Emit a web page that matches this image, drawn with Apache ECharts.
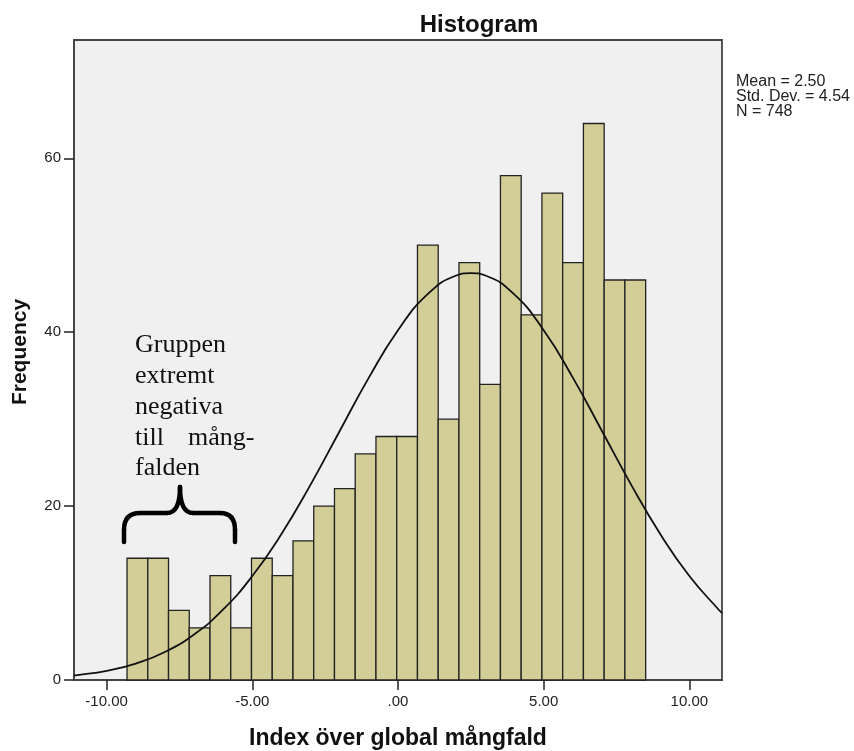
<!DOCTYPE html>
<html>
<head>
<meta charset="utf-8">
<script src="https://cdn.jsdelivr.net/npm/echarts@6/dist/echarts.min.js"></script>
<style>
html,body{margin:0;padding:0;background:#fff;}
#chart{width:854px;height:751px;}
</style>
</head>
<body>
<div id="chart"></div>
<script>
// ---- data ----
const binStart = -9.30;
const binWidth = 0.712;
const counts = [14,14,8,6,12,6,14,12,16,20,22,26,28,28,50,30,48,34,58,42,56,48,64,46,46];
const curveX = [-11.12,-11,-10,-9,-8,-7,-6,-5,-4,-3,-2,-1,0,1,2,2.5,3,4,5,6,7,8,9,10,11,11.12];
const curveY = [0.53,0.56,1.06,1.89,3.22,5.24,8.11,11.96,16.79,22.47,28.64,34.77,40.21,44.31,46.52,46.8,46.52,44.31,40.21,34.77,28.64,22.47,16.79,11.96,8.11,7.71];
const xTickValues = [-10,-5,0,5,10];
const xTickLabels = ["-10.00","-5.00",".00","5.00","10.00"];
const yTickValues = [0,20,40,60];
const statsLines = ["Mean = 2.50","Std. Dev. = 4.54","N = 748"];
const noteLines = ["Gruppen","extremt","negativa","till","mång-","falden"];
const titleText = "Histogram";
const xName = "Index över global mångfald";
const yName = "Frequency";

const chart = echarts.init(document.getElementById('chart'), null, {renderer:'canvas'});
const histData = counts.map((c,i)=>[binStart+i*binWidth, binStart+(i+1)*binWidth, c]);
const curveData = curveX.map((x,i)=>[x, curveY[i]]);
const axisColor = '#454545';
const sans = 'Liberation Sans, Arial, sans-serif';
const serif = 'Liberation Serif, Times New Roman, serif';

const braceStyle = {stroke:'#000', lineWidth:4.5, lineCap:'round', fill:null};
function bLine(x1,y1,x2,y2){return {type:'line', shape:{x1,y1,x2,y2}, style:braceStyle, z:10};}
function bCurve(x1,y1,cx,cy,x2,y2){return {type:'bezierCurve', shape:{x1,y1,x2,y2,cpx1:cx,cpy1:cy}, style:braceStyle, z:10};}

const noteStyle = (t)=>({text:t, fontFamily:serif, fontSize:26, fill:'#111', verticalAlign:'middle'});

const option = {
  backgroundColor:'#ffffff',
  animation:false,
  title:{
    text:titleText, left:474, top:8, textAlign:'center',
    textStyle:{fontFamily:sans, fontWeight:'bold', fontSize:24, color:'#111'}
  },
  grid:{left:74, right:132, top:40, bottom:71, containLabel:false, outerBoundsMode:'none',
    show:true, backgroundColor:'#f0f0f0', borderColor:axisColor, borderWidth:1.8},
  xAxis:{
    type:'value', min:-11.12, max:11.12,
    name:xName, nameLocation:'middle', nameGap:47,
    nameTextStyle:{fontFamily:sans, fontWeight:'bold', fontSize:23, color:'#111'},
    axisLine:{show:true, onZero:false, lineStyle:{color:axisColor, width:1.8}},
    axisTick:{show:true, length:10, customValues:xTickValues, lineStyle:{color:'#222', width:1.5}},
    axisLabel:{show:true, margin:14, customValues:xTickValues,
      formatter:(v)=>{const i = xTickValues.indexOf(v); return i>=0 ? xTickLabels[i] : '';},
      fontFamily:sans, fontSize:15, color:'#222'},
    splitLine:{show:false}
  },
  yAxis:{
    type:'value', min:0, max:73.6,
    axisLine:{show:true, onZero:false, lineStyle:{color:axisColor, width:1.8}},
    axisTick:{show:true, length:10, customValues:yTickValues, lineStyle:{color:'#222', width:1.5}},
    axisLabel:{show:true, margin:13, customValues:yTickValues, fontFamily:sans, fontSize:15, color:'#222'},
    splitLine:{show:false}
  },
  series:[
    {
      type:'custom',
      data:histData,
      encode:{x:[0,1], y:2},
      renderItem:function(params, api){
        const x0 = api.value(0), x1 = api.value(1), y = api.value(2);
        const p0 = api.coord([x0, y]);
        const p1 = api.coord([x1, 0]);
        return {type:'rect', shape:{x:p0[0], y:p0[1], width:p1[0]-p0[0], height:p1[1]-p0[1]},
          style:{fill:'#d3ce97', stroke:'#222', lineWidth:1.3}};
      },
      z:2
    },
    {
      type:'line', data:curveData, smooth:true, showSymbol:false, symbol:'none',
      lineStyle:{color:'#111', width:1.8}, clip:true, z:3
    }
  ],
  graphic:[
    {type:'text', x:20, y:352, rotation:Math.PI/2,
      style:{text:yName, fontFamily:sans, fontWeight:'bold', fontSize:21, fill:'#111', align:'center', verticalAlign:'middle'}},
    {type:'text', x:736, y:74, style:{text:statsLines.join('\n'), fontFamily:sans, fontSize:16, lineHeight:15, fill:'#222'}},
    {type:'text', x:135, y:345.5, style:noteStyle(noteLines[0])},
    {type:'text', x:135, y:376.5, style:noteStyle(noteLines[1])},
    {type:'text', x:135, y:407.5, style:noteStyle(noteLines[2])},
    {type:'text', x:135, y:438, style:noteStyle(noteLines[3])},
    {type:'text', x:188, y:438, style:noteStyle(noteLines[4])},
    {type:'text', x:135, y:468, style:noteStyle(noteLines[5])},
    bLine(124,542,124,530),
    bCurve(124,530,124,513,140,513),
    bLine(140,513,167,513),
    bCurve(167,513,180,513,180,487),
    bCurve(180,487,180,513,193,513),
    bLine(193,513,220,513),
    bCurve(220,513,235,513,235,530),
    bLine(235,530,235,542)
  ]
};
chart.setOption(option);
</script>
</body>
</html>
